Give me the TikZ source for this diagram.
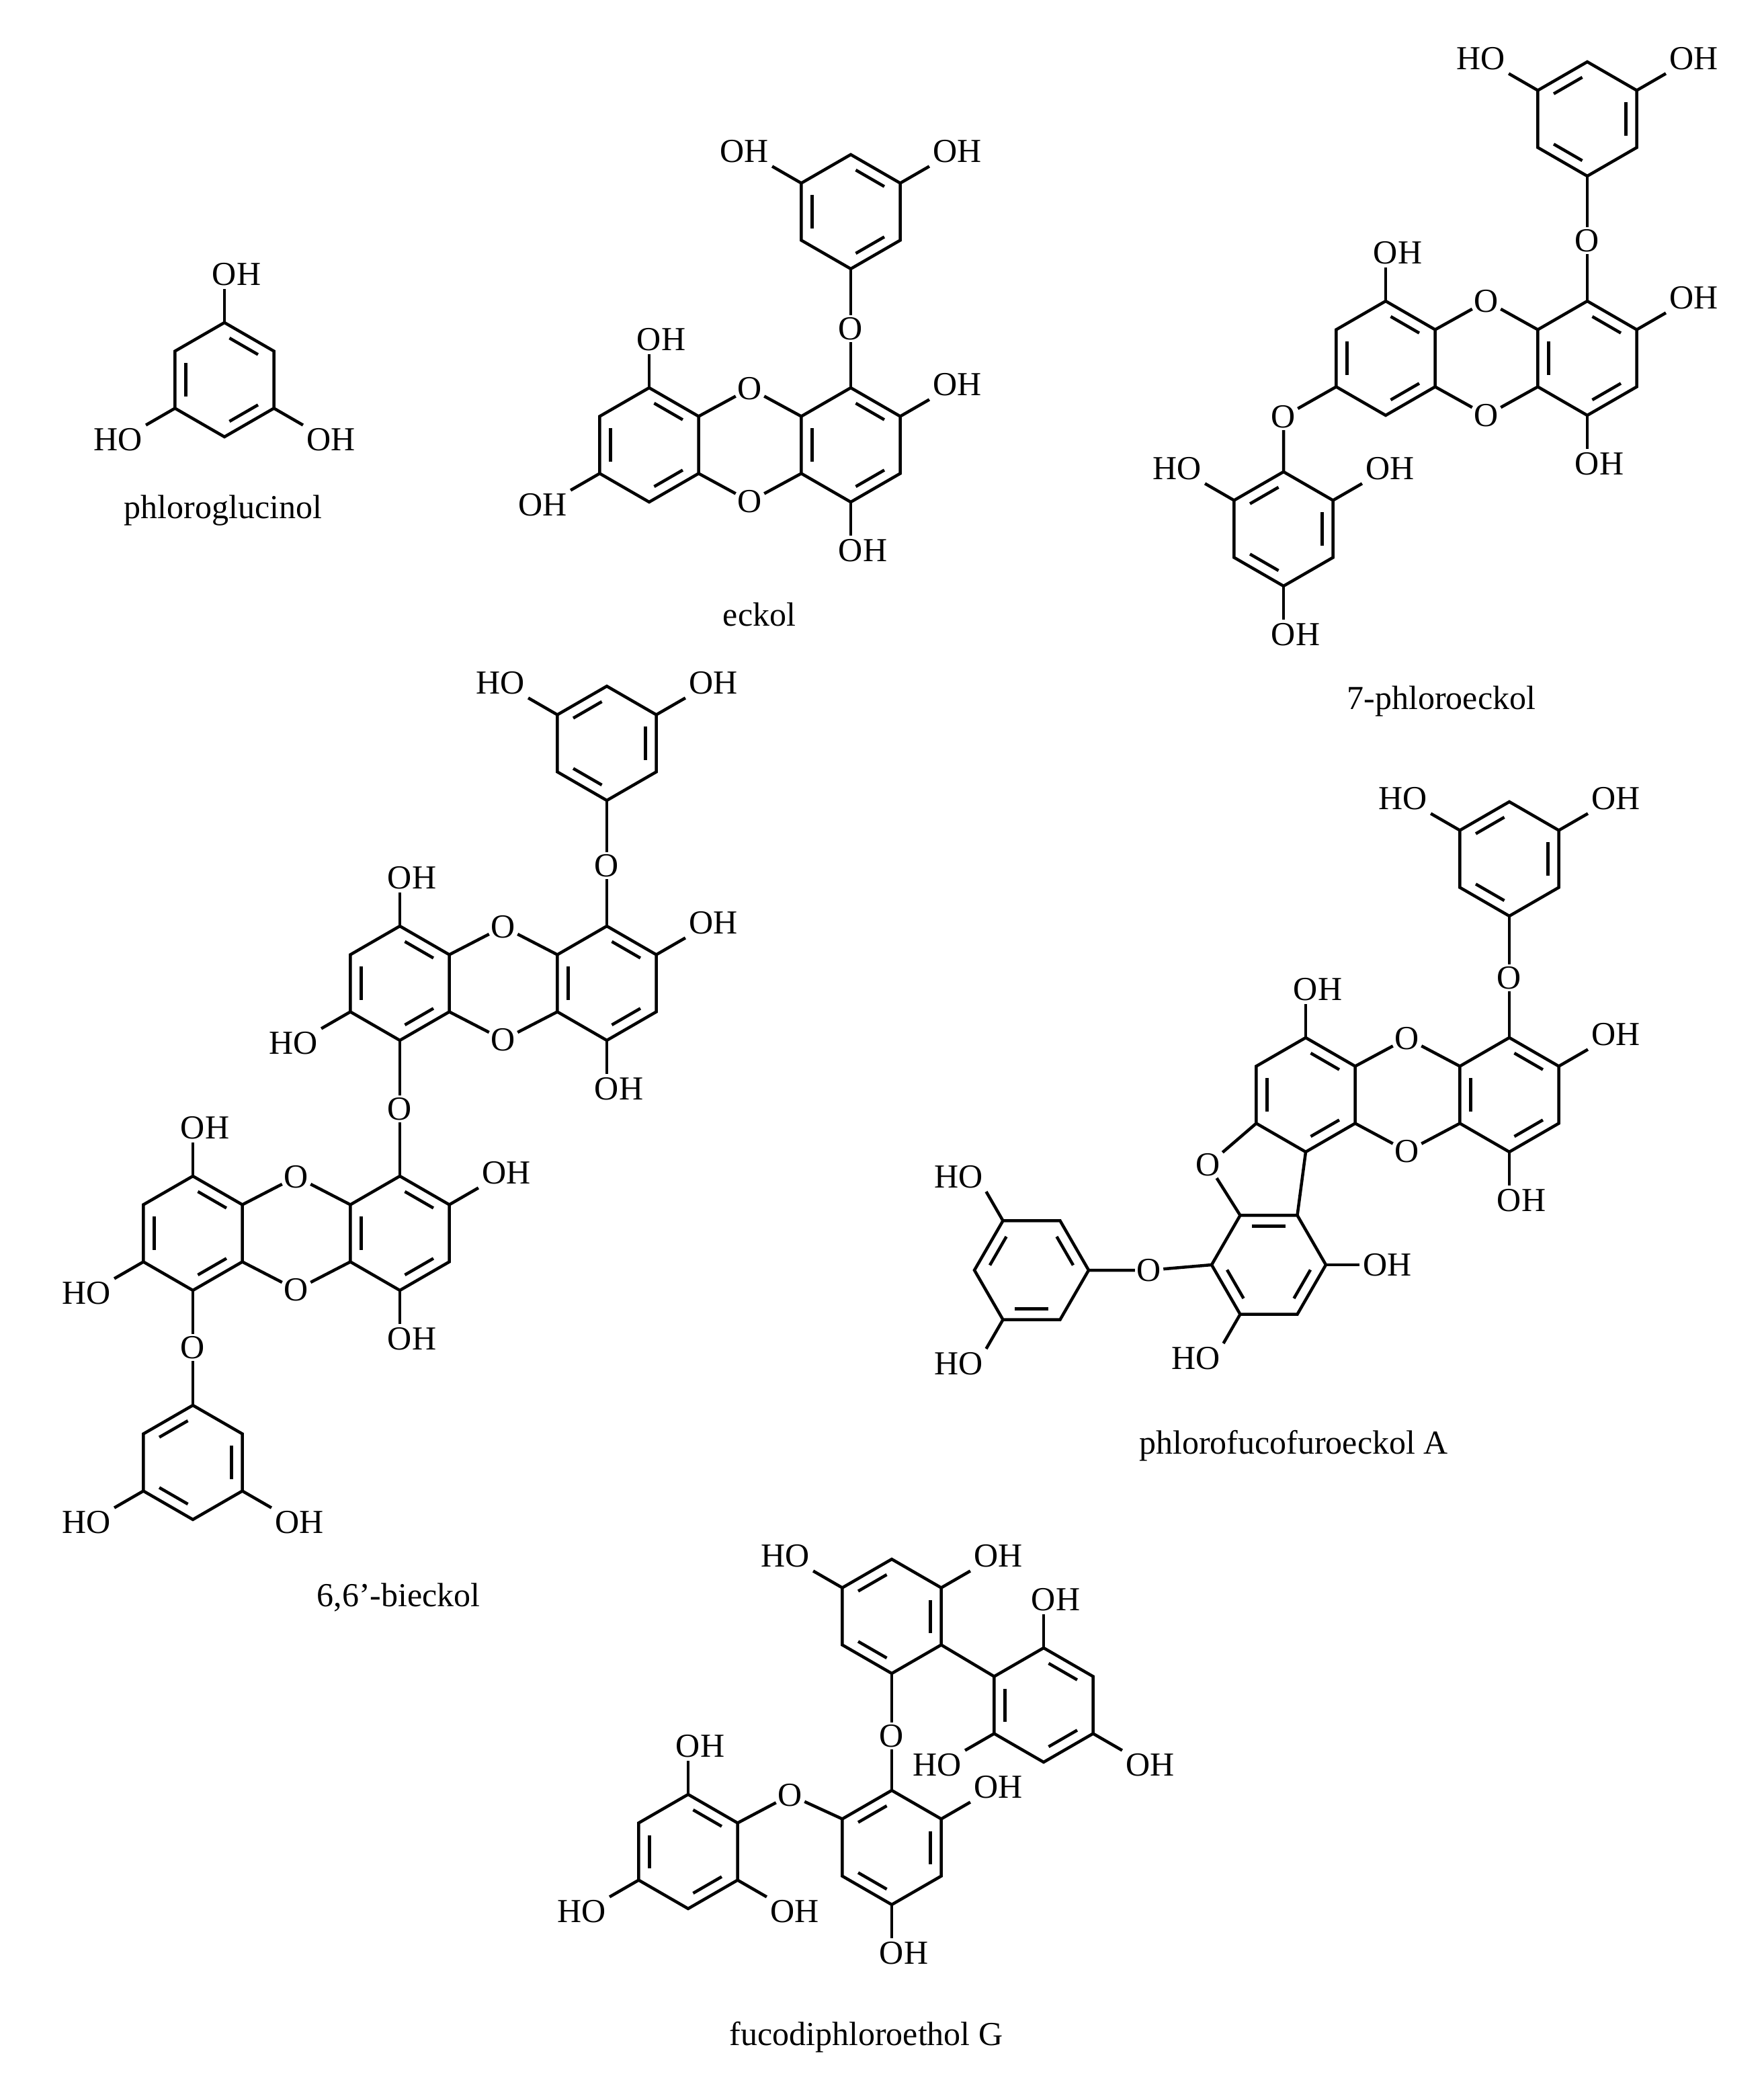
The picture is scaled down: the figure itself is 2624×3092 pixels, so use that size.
\documentclass[tikz,border=0pt]{standalone}
\usepackage{fontspec}
\setmainfont{Liberation Serif}
\usetikzlibrary{calc}
\tikzset{bond/.style={line width=4.5pt,line join=miter,line cap=butt},
 lab/.style={inner sep=3pt,font=\fontsize{50}{56}\selectfont},
 molname/.style={font=\fontsize{50}{56}\selectfont}}
\newcommand\ring[4]{%
 \coordinate (#1-c) at (#2,#3);
 \foreach \k in {0,...,5}{\coordinate (#1-\k) at ($(#2,#3)+({#4+90-60*\k}:85)$);}
 \draw[bond] (#1-0)--(#1-1)--(#1-2)--(#1-3)--(#1-4)--(#1-5)--cycle;}
\newcommand\db[3]{%
 \coordinate (tp) at ($(#1-c)!0.78!(#1-#2)$);
 \coordinate (tq) at ($(#1-c)!0.78!(#1-#3)$);
 \draw[bond] ($(tp)!0.13!(tq)$) -- ($(tq)!0.13!(tp)$);}
\newcommand\dd[1]{\db{#1}{0}{1}\db{#1}{2}{3}\db{#1}{4}{5}}
\newcommand\de[1]{\db{#1}{5}{0}\db{#1}{1}{2}\db{#1}{3}{4}}
\newcommand\sub[5]{\draw[bond] (#1-#2) -- ++(#3:50) node[lab,anchor=#4] {#5};}
\newcommand\bridge[5]{\node[lab] (#1) at (#2,#3) {O}; \draw[bond] (#4) -- (#1) -- (#5);}
\newcommand\OHv{O\rlap{H}}
\begin{document}
\begin{tikzpicture}[x=1pt,y=1pt]
\useasboundingbox (0,0) rectangle (2624,-3092);
% phloroglucinol
\ring{P}{334}{-565}{0}\dd{P}
\sub{P}{0}{90}{south}{\OHv}
\sub{P}{4}{210}{north east}{HO}
\sub{P}{2}{330}{north west}{OH}
\node[molname] at (332,-760) {phloroglucinol};
% eckol
\ring{E1}{966}{-662}{0}\dd{E1}
\ring{E2}{1266}{-662}{0}\dd{E2}
\ring{E3}{1266}{-315}{0}\dd{E3}
\bridge{eo1}{1116}{-578}{E1-1}{E2-5}
\bridge{eo2}{1116}{-746}{E1-2}{E2-4}
\bridge{eo3}{1266}{-489}{E2-0}{E3-3}
\sub{E1}{0}{90}{south}{\OHv}
\sub{E1}{4}{210}{north east}{OH}
\sub{E2}{1}{30}{south west}{OH}
\sub{E2}{3}{270}{north}{\OHv}
\sub{E3}{5}{150}{south east}{OH}
\sub{E3}{1}{30}{south west}{OH}
\node[molname] at (1130,-914) {eckol};
% 7-phloroeckol
\ring{F1}{2062}{-533}{0}\dd{F1}
\ring{F2}{2362}{-533}{0}\dd{F2}
\ring{G}{1910}{-787}{0}\de{G}
\ring{H}{2362}{-177}{0}\de{H}
\bridge{fo1}{2212}{-448}{F1-1}{F2-5}
\bridge{fo2}{2212}{-618}{F1-2}{F2-4}
\bridge{fo3}{1910}{-620}{F1-4}{G-0}
\bridge{fo4}{2362}{-358}{F2-0}{H-3}
\sub{F1}{0}{90}{south}{\OHv}
\sub{F2}{1}{30}{south west}{OH}
\sub{F2}{3}{270}{north}{\OHv}
\sub{G}{5}{150}{south east}{HO}
\sub{G}{1}{30}{south west}{OH}
\sub{G}{3}{270}{north}{\OHv}
\sub{H}{5}{150}{south east}{HO}
\sub{H}{1}{30}{south west}{OH}
\node[molname] at (2145,-1043) {7-phloroeckol};
% 6,6'-bieckol
\ring{U1}{595}{-1463}{0}\dd{U1}
\ring{U2}{903}{-1463}{0}\dd{U2}
\ring{T}{903}{-1106}{0}\de{T}
\ring{L1}{287}{-1835}{0}\dd{L1}
\ring{L2}{595}{-1835}{0}\dd{L2}
\ring{B}{287}{-2176}{0}\de{B}
\bridge{bo1}{749}{-1379}{U1-1}{U2-5}
\bridge{bo2}{749}{-1547}{U1-2}{U2-4}
\bridge{bo3}{903}{-1288}{U2-0}{T-3}
\bridge{bo4}{595}{-1650}{U1-3}{L2-0}
\bridge{bo5}{441}{-1751}{L1-1}{L2-5}
\bridge{bo6}{441}{-1919}{L1-2}{L2-4}
\bridge{bo7}{287}{-2005}{L1-3}{B-0}
\sub{U1}{0}{90}{south}{\OHv}
\sub{U1}{4}{210}{north east}{HO}
\sub{U2}{1}{30}{south west}{OH}
\sub{U2}{3}{270}{north}{\OHv}
\sub{T}{5}{150}{south east}{HO}
\sub{T}{1}{30}{south west}{OH}
\sub{L1}{0}{90}{south}{\OHv}
\sub{L1}{4}{210}{north east}{HO}
\sub{L2}{1}{30}{south west}{OH}
\sub{L2}{3}{270}{north}{\OHv}
\sub{B}{4}{210}{north east}{HO}
\sub{B}{2}{330}{north west}{OH}
\node[molname] at (593,-2377) {6,6\textquoteright-bieckol};
% phlorofucofuroeckol A
\ring{R1}{1943}{-1629}{0}\dd{R1}
\ring{R2}{2246}{-1629}{0}\dd{R2}
\ring{Q}{2246}{-1278}{0}\de{Q}
\ring{S}{1888}{-1882}{30}\dd{S}
\ring{W}{1535}{-1890}{30}\de{W}
\bridge{ro1}{2094}{-1545}{R1-1}{R2-5}
\bridge{ro2}{2094}{-1713}{R1-2}{R2-4}
\bridge{ro3}{2246}{-1455}{R2-0}{Q-3}
\bridge{ro4}{1798}{-1733}{R1-4}{S-0}
\draw[bond] (R1-3) -- (S-1);
\bridge{ro5}{1710}{-1890}{S-5}{W-2}
\sub{R1}{0}{90}{south}{\OHv}
\sub{R2}{1}{30}{south west}{OH}
\sub{R2}{3}{270}{north}{\OHv}
\sub{Q}{5}{150}{south east}{HO}
\sub{Q}{1}{30}{south west}{OH}
\sub{S}{2}{0}{west}{OH}
\sub{S}{4}{240}{north east}{HO}
\sub{W}{0}{120}{south east}{HO}
\sub{W}{4}{240}{north east}{HO}
\node[molname] at (1925,-2151) {phlorofucofuroeckol A};
% fucodiphloroethol G
\ring{A}{1327}{-2405}{0}\de{A}
\ring{Bb}{1553}{-2537}{0}\dd{Bb}
\ring{C}{1327}{-2749}{0}\de{C}
\ring{D}{1024}{-2755}{0}\dd{D}
\draw[bond] (A-2) -- (Bb-5);
\bridge{go1}{1327}{-2583}{A-3}{C-0}
\bridge{go2}{1176}{-2671}{C-5}{D-1}
\sub{A}{5}{150}{south east}{HO}
\sub{A}{1}{30}{south west}{OH}
\sub{Bb}{0}{90}{south}{\OHv}
\sub{Bb}{4}{210}{north east}{HO}
\sub{Bb}{2}{330}{north west}{OH}
\sub{C}{1}{30}{south west}{OH}
\sub{C}{3}{270}{north}{\OHv}
\sub{D}{0}{90}{south}{\OHv}
\sub{D}{4}{210}{north east}{HO}
\sub{D}{2}{330}{north west}{OH}
\node[molname] at (1289,-3031) {fucodiphloroethol G};
\end{tikzpicture}
\end{document}
